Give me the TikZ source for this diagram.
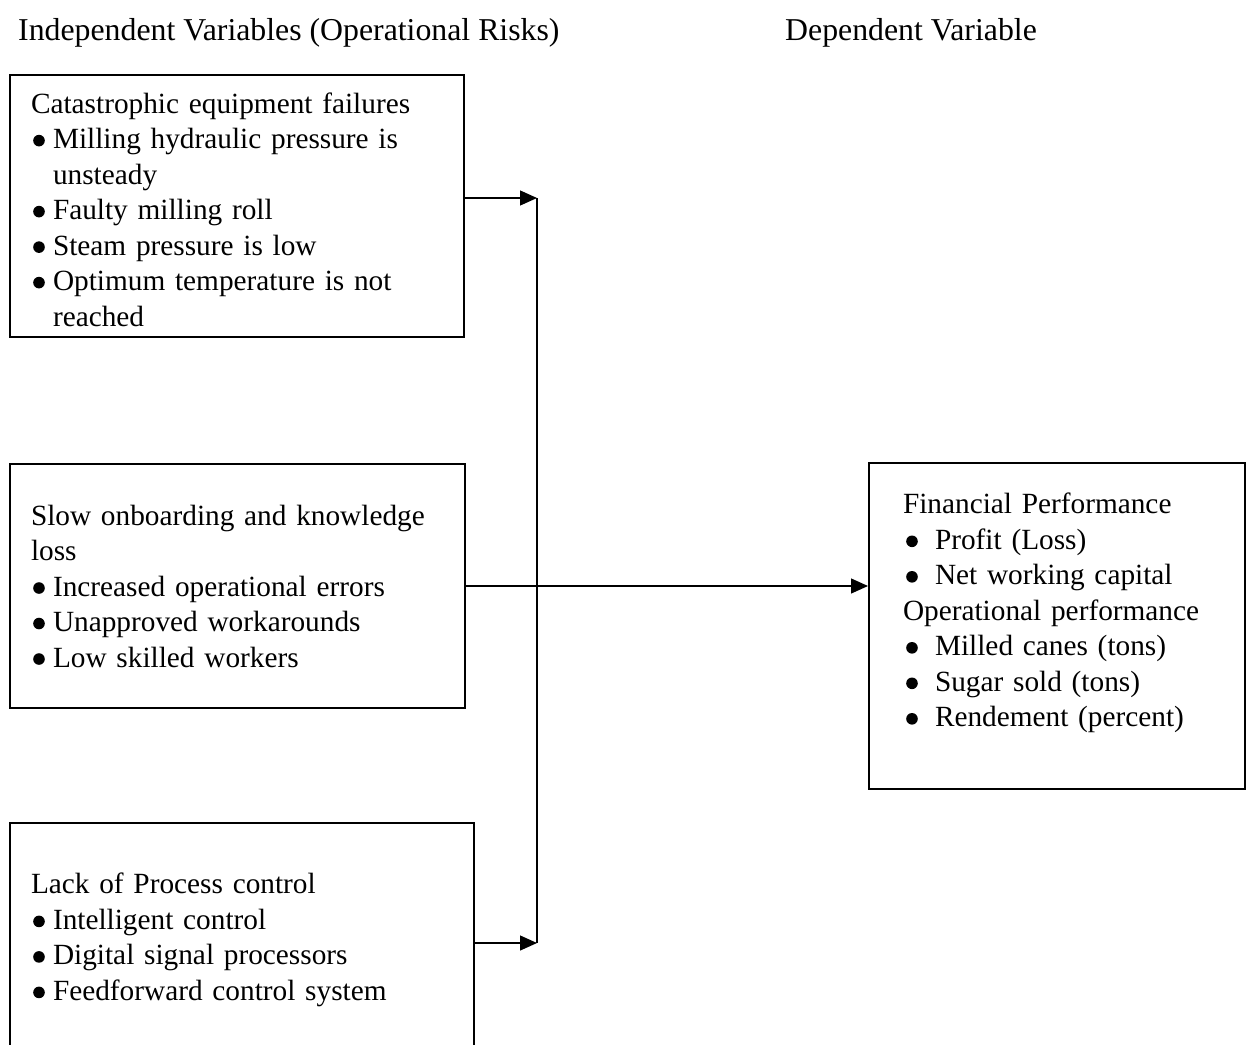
\documentclass[tikz,border=0pt]{standalone}
\usepackage{fontspec}
\setmainfont{Liberation Serif}
\usetikzlibrary{arrows.meta}

% puce ronde dessinee
\newcommand{\rond}{\tikz[x=1pt,y=1pt,baseline=0pt]\fill (0,8) circle (5.8);}
% puce avec retrait
\newcommand{\puce}[1]{\par\hangindent=22pt\hangafter=1\noindent\makebox[22pt][l]{\hspace{2.2pt}\rond}#1\par}
\newcommand{\pucelarge}[1]{\par\hangindent=32pt\hangafter=1\noindent\makebox[32pt][l]{\hspace{3.2pt}\rond}#1\par}

\tikzset{
  boite/.style={draw, line width=2pt, anchor=north west, align=left, inner ysep=0pt, inner xsep=21pt},
  fleche/.style={line width=1.3pt, -{Triangle[length=17pt,width=15pt]}},
  titre/.style={anchor=base west, inner sep=0pt, font=\fontsize{31.8}{36}\selectfont}
}

\begin{document}
\begin{tikzpicture}[x=1pt, y=-1pt, font=\fontsize{29.3}{35.5}\selectfont]

        \useasboundingbox (0,0) rectangle (1250,1044);

        % Les titres
        \node[titre] (titreind) at (18,40) {Independent Variables (Operational Risks)};
        \node[titre] (titredep) at (785,40) {Dependent Variable};

        % Les boites a gauche
        \node[boite, text width=412pt, minimum height=262pt] (equip) at (9,74)
          {\rule{0pt}{27.5pt}Catastrophic equipment failures
           \puce{Milling hydraulic pressure is\newline unsteady}
           \puce{Faulty milling roll}
           \puce{Steam pressure is low}
           \puce{Optimum temperature is not\newline reached}};
        \node[boite, text width=413pt, minimum height=244pt] (savoir) at (9,463)
          {Slow onboarding and knowledge\newline loss
           \puce{Increased operational errors}
           \puce{Unapproved workarounds}
           \puce{Low skilled workers}};
        \node[boite, text width=422pt, minimum height=234pt] (controle) at (9,822)
          {Lack of Process control
           \puce{Intelligent control}
           \puce{Digital signal processors}
           \puce{Feedforward control system}};

        % La boite a droite
        \node[boite, inner xsep=34pt, text width=308pt, minimum height=326pt] (perf) at (868,462)
          {Financial Performance
           \pucelarge{Profit (Loss)}
           \pucelarge{Net working capital}
           \noindent Operational performance
           \pucelarge{Milled canes (tons)}
           \pucelarge{Sugar sold (tons)}
           \pucelarge{Rendement (percent)\rule[-32pt]{0pt}{0pt}}};

        % La ligne verticale
        \coordinate (haut) at (537,198);
        \coordinate (bas) at (537,943);
        \draw[line width=1.3pt] (haut) -- (bas);

        % Les fleches
        \draw[fleche] (equip.east |- haut) -- (haut);
        \draw[fleche] (controle.east |- bas) -- (bas);
        \draw[fleche] (savoir.east) -- (savoir.east -| perf.west);

    \end{tikzpicture}
\end{document}
